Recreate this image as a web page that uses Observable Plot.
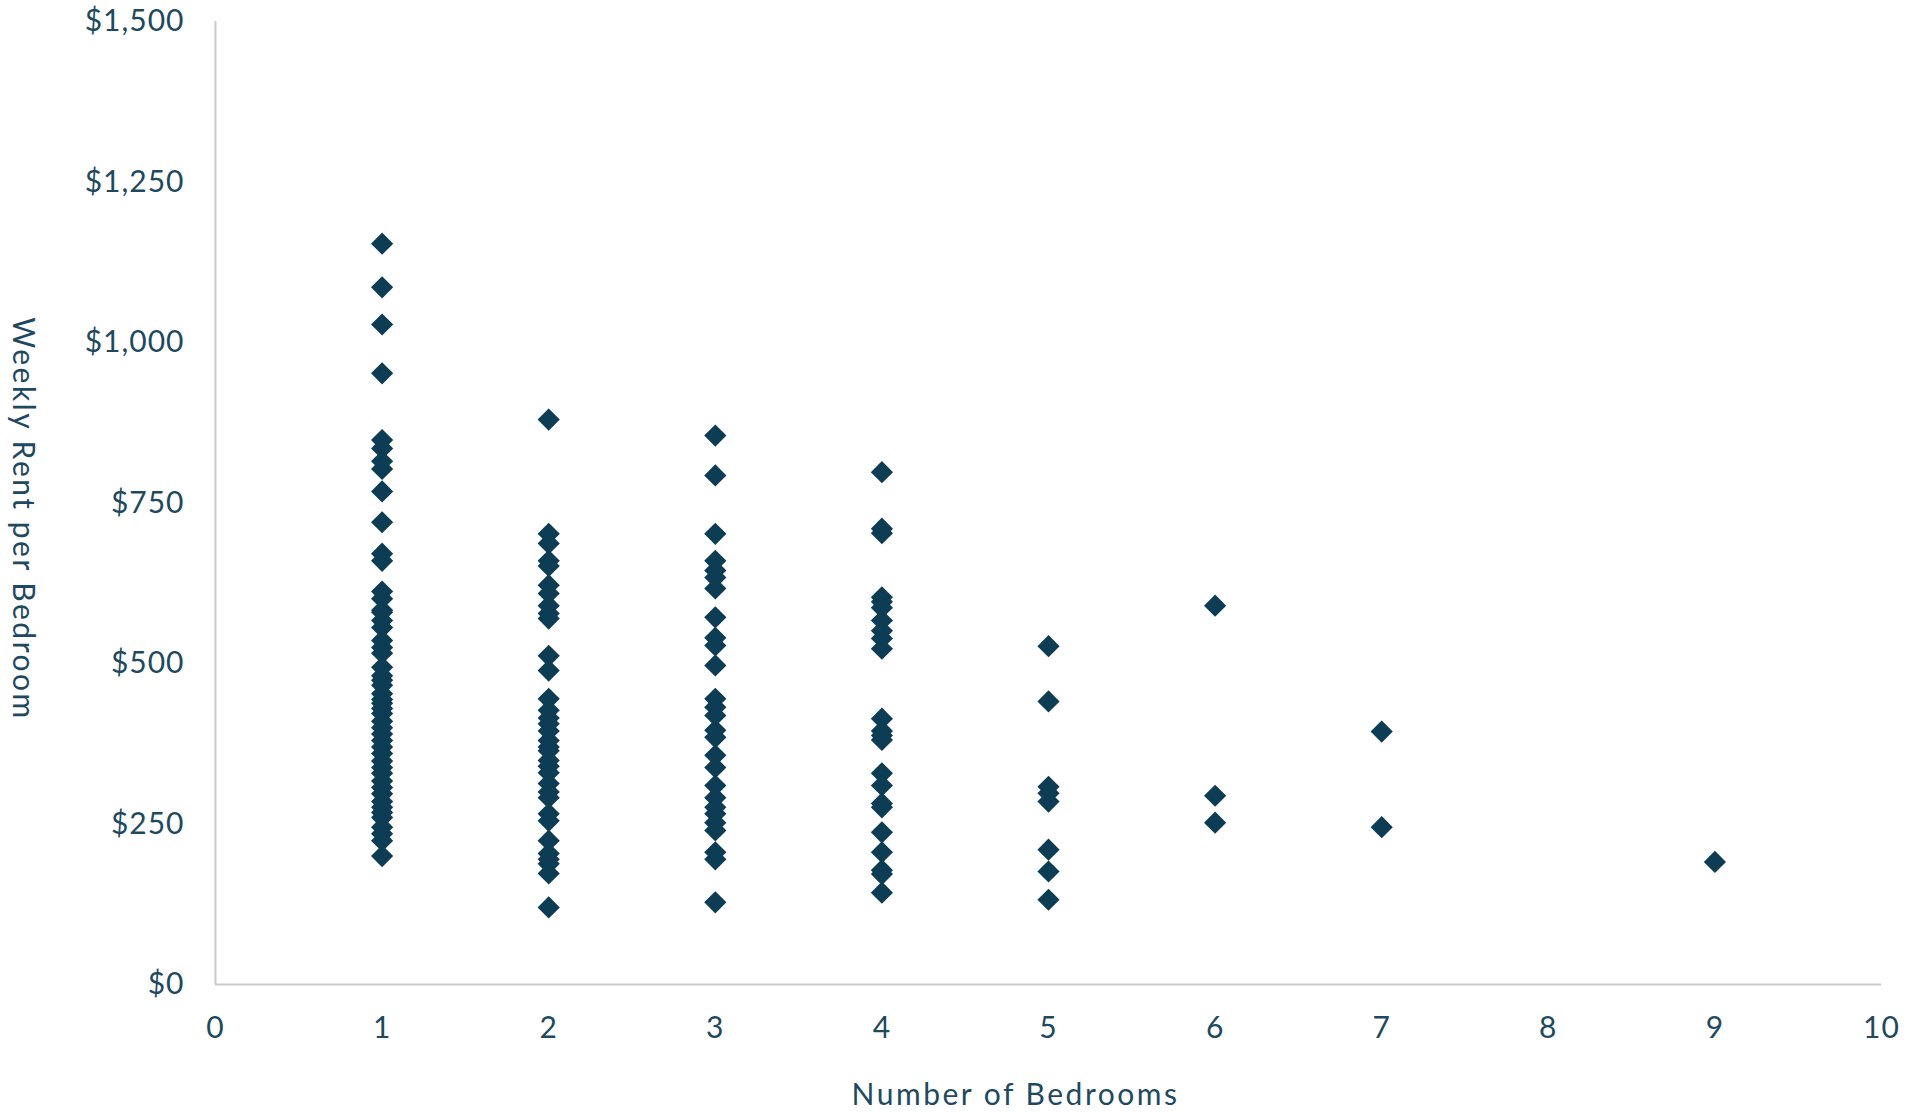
<!DOCTYPE html>
<html>
<head>
<meta charset="utf-8">
<script src="https://cdn.jsdelivr.net/npm/d3@7"></script>
<script src="https://cdn.jsdelivr.net/npm/@observablehq/plot@0.6"></script>
<style>
  html, body { margin: 0; padding: 0; background: #ffffff; }
  #chart svg { display: block; }
  #chart svg g[aria-label="x-axis tick label"] text,
  #chart svg g[aria-label="y-axis tick label"] text { letter-spacing: 1px; }
  #chart svg g.title text { letter-spacing: 2.5px; }
</style>
</head>
<body>
<div id="chart"></div>
<script>
// Weekly rent per bedroom, by number of bedrooms
const bed1 = [1154, 1086, 1028, 952, 848, 835, 815, 803, 768, 720, 671, 660, 612, 601, 583, 580, 567, 556, 536, 525, 516, 494, 481, 474, 466, 453, 444, 438, 430, 422, 410, 400, 390, 380, 370, 360, 348, 338, 329, 317, 307, 297, 285, 276, 268, 260, 245, 235, 224, 200];
const bed2 = [880, 702, 687, 660, 652, 622, 609, 590, 578, 570, 512, 489, 445, 427, 415, 406, 395, 380, 370, 364, 349, 340, 330, 313, 300, 291, 266, 255, 224, 204, 195, 188, 173, 120];
const bed3 = [855, 793, 702, 660, 645, 634, 617, 572, 540, 528, 497, 445, 432, 419, 396, 385, 357, 338, 310, 291, 276, 266, 252, 240, 206, 195, 128];
const bed4 = [798, 710, 703, 603, 596, 587, 567, 551, 539, 523, 414, 395, 388, 381, 329, 310, 282, 276, 237, 206, 178, 172, 143];
const bed5 = [527, 441, 308, 298, 285, 210, 176, 132];
const bed6 = [590, 294, 252];
const bed7 = [394, 245];
const bed9 = [191];

const xTicks = [0, 1, 2, 3, 4, 5, 6, 7, 8, 9, 10];
const yTicks = [0, 250, 500, 750, 1000, 1250, 1500];
const xTitle = "Number of Bedrooms";
const yTitle = "Weekly Rent per Bedroom";

const groups = [[1, bed1], [2, bed2], [3, bed3], [4, bed4], [5, bed5], [6, bed6], [7, bed7], [9, bed9]];
const data = groups.flatMap(([b, vals]) => vals.map(v => ({bedrooms: b, rent: v})));

const ink = "#1d4a60";
const axisGrey = "#c9c9c9";
const fmt = d3.format(",");

const chart = Plot.plot({
  width: 1923,
  height: 1112,
  marginLeft: 215,
  marginRight: 42,
  marginTop: 21,
  marginBottom: 128,
  style: {fontFamily: "Lato, 'Open Sans', sans-serif", fontSize: "30px", color: ink, background: "#ffffff"},
  x: {domain: [0, 10]},
  y: {domain: [0, 1500]},
  marks: [
    Plot.ruleX([0], {stroke: axisGrey, strokeWidth: 2}),
    Plot.ruleY([0], {stroke: axisGrey, strokeWidth: 2}),
    Plot.axisX({ticks: xTicks, tickSize: 0, tickPadding: 32, tickFormat: d => String(d), label: null, fill: ink}),
    Plot.axisY({ticks: yTicks, tickSize: 0, tickPadding: 31, tickFormat: d => "$" + fmt(d), label: null, fill: ink}),
    Plot.text([xTitle], {frameAnchor: "bottom", dx: -33, dy: 111, fill: ink, fontSize: 30, lineAnchor: "middle", textAnchor: "middle", className: "title"}),
    Plot.text([yTitle], {frameAnchor: "left", dx: -193, dy: 16, rotate: 90, fill: ink, fontSize: 30, lineAnchor: "middle", textAnchor: "middle", className: "title"}),
    Plot.dot(data, {x: "bedrooms", y: "rent", symbol: "diamond2", r: 10, fill: "#0d3d55", stroke: "none"})
  ]
});
document.getElementById("chart").appendChild(chart);
</script>
</body>
</html>
